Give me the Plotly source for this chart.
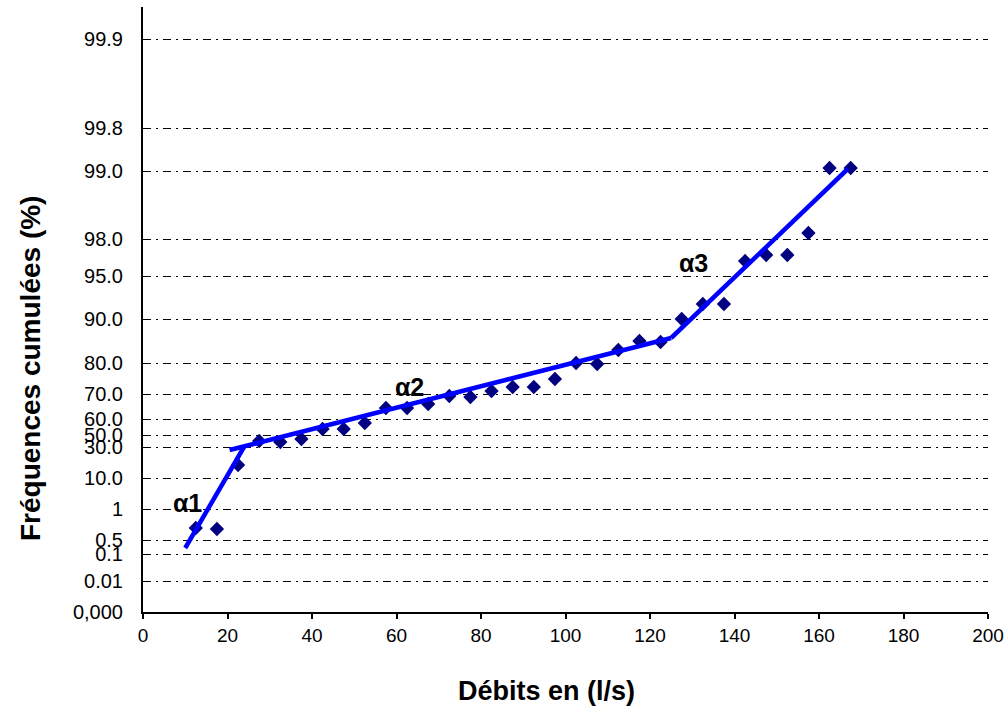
import plotly.graph_objects as go

debits = [12.5, 17.5, 22.5, 27.5, 32.5, 37.5, 42.5, 47.5, 52.5, 57.5, 62.5,
          67.5, 72.5, 77.5, 82.5, 87.5, 92.5, 97.5, 102.5, 107.5, 112.5,
          117.5, 122.5, 127.5, 132.5, 137.5, 142.5, 147.5, 152.5, 157.5,
          162.5, 167.5]
frequences = [84, 83, 147, 171, 170, 173, 183, 183, 189, 204, 204, 208, 216,
              215, 221, 225, 225, 233, 249, 248, 262, 271, 270, 293, 308, 308,
              351, 357, 357, 379, 444, 444]

# Droites d'ajustement (alpha1, alpha2, alpha3)
droite1_x = [10.0, 23.9]
droite1_y = [64, 165]
droite2_x = [20.5, 125.0]
droite2_y = [162, 274]
droite3_x = [125.0, 166.8]
droite3_y = [274, 443]

# Graduations de l'axe des fréquences (échelle de probabilité)
ticks_pos = [0, 31, 58, 72, 103, 134, 165, 177, 193, 218, 249, 293, 336,
             373, 441, 484, 573]
ticks_txt = ['0,000', '0.01', '0.1', '0.5', '1', '10.0', '30.0', '50.0',
             '60.0', '70.0', '80.0', '90.0', '95.0', '98.0', '99.0', '99.8',
             '99.9']

etiquettes = ['α1', 'α2', 'α3']
etiq_x = [10.6, 63.1, 130.4]
etiq_y = [109, 225, 349]

police = 'Liberation Sans, Arial, sans-serif'

fig = go.Figure()

fig.add_trace(go.Scatter(x=debits, y=frequences, mode='markers',
                         marker=dict(symbol='diamond', size=11, color='#000080')))

for lx, ly in [(droite1_x, droite1_y), (droite2_x, droite2_y), (droite3_x, droite3_y)]:
    fig.add_trace(go.Scatter(x=lx, y=ly, mode='lines',
                             line=dict(color='#0000FF', width=4.5)))

for txt, ex, ey in zip(etiquettes, etiq_x, etiq_y):
    fig.add_annotation(x=ex, y=ey, text='<b>' + txt + '</b>', showarrow=False,
                       font=dict(size=25, color='black', family=police))

# titres des axes
fig.add_annotation(xref='paper', yref='paper', x=0.477, y=-0.1306,
                   text='<b>Débits en (l/s)</b>', showarrow=False,
                   xanchor='center', yanchor='middle',
                   font=dict(size=27, color='black', family=police))
fig.add_annotation(xref='paper', yref='paper', x=-0.1325, y=0.4017,
                   text='<b>Fréquences cumulées (%)</b>', showarrow=False,
                   textangle=-90, xanchor='center', yanchor='middle',
                   font=dict(size=28, color='black', family=police))

fig.update_layout(
    width=1008, height=715,
    margin=dict(l=143, r=20, t=7, b=103),
    plot_bgcolor='white', paper_bgcolor='white',
    showlegend=False,
    font=dict(family=police, color='black'),
)

fig.update_xaxes(range=[0, 200], tickvals=list(range(0, 201, 20)),
                 showgrid=False, zeroline=False, automargin=False,
                 showline=True, linecolor='black', linewidth=2,
                 ticks='outside', ticklen=5, tickcolor='black', tickwidth=1.5,
                 tickfont=dict(size=19))

fig.update_yaxes(range=[0, 605], tickvals=ticks_pos, ticktext=ticks_txt,
                 showgrid=True, gridcolor='black', gridwidth=1,
                 griddash='8px,5px,2px,5px',
                 zeroline=False, automargin=False,
                 showline=True, linecolor='black', linewidth=2,
                 ticks='', tickfont=dict(size=20), ticklabelstandoff=14)

# pas de marge autour de la figure dans la page, pas de barre d'outils
fig.write_html("out.html", config={'displayModeBar': False},
               post_script="document.body.style.margin='0px';")
